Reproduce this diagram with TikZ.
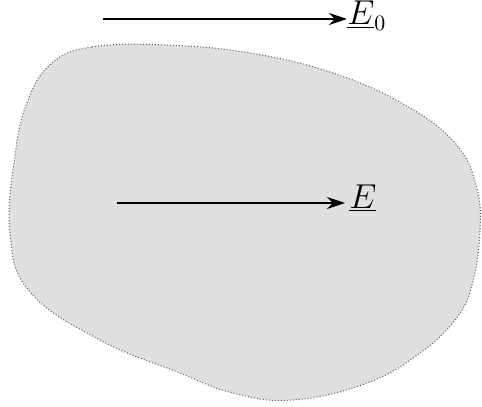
\documentclass[tikz,border=0pt]{standalone}
\usetikzlibrary{arrows.meta}
\definecolor{blobfill}{RGB}{223,224,222}
\definecolor{blobline}{RGB}{90,90,90}
\tikzset{
  blob/.style={fill=blobfill, draw=blobline, densely dotted, line width=0.5pt},
  field/.style={-{Stealth[length=9pt,width=6pt]}, line width=0.7pt},
  lbl/.style={anchor=base west, inner sep=0pt, font=\fontsize{16}{19}\selectfont}
}
\begin{document}
\begin{tikzpicture}[x=0.5pt,y=-0.5pt]
\useasboundingbox (0,0) rectangle (482,407);
\draw[blob] plot[smooth cycle, tension=0.7] coordinates {
  (52,63) (92,47) (165,45) (250,53) (333,73) (405,105) (455,143) (476,185) (480,230)
  (472,285) (455,320) (420,353) (367,383) (293,400) (233,393) (180,373)
  (100,340) (30,292) (10,233) (15,155) (28,100)};
\coordinate (s0) at (103,19);
\node[lbl] (e0) at (347,25) {$\underline{E}_{\mathrm{0}}$};
\draw[field] (s0) -- (s0 -| e0.west);
\coordinate (s1) at (117,203);
\node[lbl] (e1) at (349,208) {$\underline{E}$};
\draw[field] (s1) -- ([xshift=-2pt]s1 -| e1.west);
\end{tikzpicture}
\end{document}
